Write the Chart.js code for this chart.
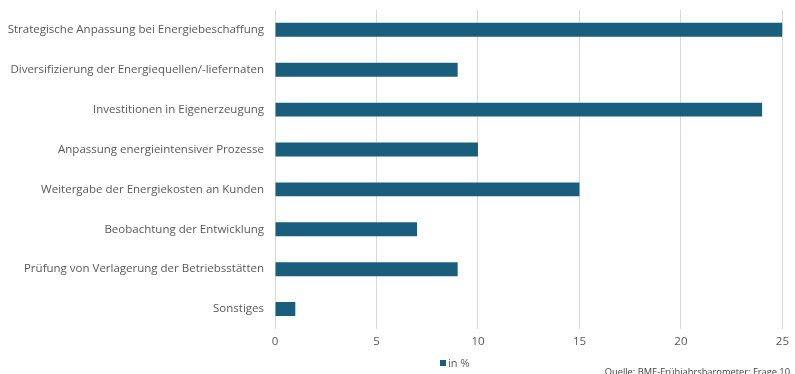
<!DOCTYPE html>
<html lang="de">
<head>
<meta charset="utf-8">
<title>Maßnahmen gegen hohe Energiekosten</title>
<script src="https://cdn.jsdelivr.net/npm/chart.js@4/dist/chart.umd.min.js"></script>
<style>
  html, body { margin: 0; padding: 0; background: #ffffff; }
  #wrap { position: relative; width: 795px; height: 374px; overflow: hidden; }
  #legend {
    position: absolute; left: 440px; top: 355px;
    font: 11px "Open Sans", sans-serif; color: #595959;
    display: flex; align-items: center;
  }
  #legend span.box { width: 6px; height: 6px; background: #1a5e7e; margin-right: 2px; }
  #source {
    position: absolute; right: 5px; top: 365px;
    font: 9.3px "Open Sans", sans-serif; color: #404040;
  }
</style>
</head>
<body>
<div id="wrap">
  <canvas id="chart" width="795" height="374"></canvas>
  <div id="legend"><span class="box"></span><span>in %</span></div>
  <div id="source">Quelle: BME-Frühjahrsbarometer; Frage 10</div>
</div>
<script>
// categories and values (in %)
const categories = [
    "Strategische Anpassung bei Energiebeschaffung",
    "Diversifizierung der Energiequellen/-liefernaten",
    "Investitionen in Eigenerzeugung",
    "Anpassung energieintensiver Prozesse",
    "Weitergabe der Energiekosten an Kunden",
    "Beobachtung der Entwicklung",
    "Prüfung von Verlagerung der Betriebsstätten",
    "Sonstiges"
];
const values = [25, 9, 24, 10, 15, 7, 9, 1];
const xTicks = [0, 5, 10, 15, 20, 25];

const barColor = "#1a5e7e";
const labelFont = { family: "'Open Sans', sans-serif", size: 11.5 };

const ctx = document.getElementById("chart").getContext("2d");
const chart = new Chart(ctx, {
    type: "bar",
    data: {
        labels: categories,
        datasets: [
            {
                label: "in %",
                data: values,
                backgroundColor: barColor,
                borderWidth: 0,
                categoryPercentage: 0.7,
                barPercentage: 0.5
            }
        ]
    },
    options: {
        indexAxis: "y",
        responsive: false,
        animation: false,
        layout: {
            padding: { top: 1, right: 12, left: 0, bottom: 0 }
        },
        plugins: {
            legend: { display: false },
            tooltip: { enabled: false }
        },
        scales: {
            x: {
                min: 0,
                max: 25,
                afterBuildTicks: function (scale) {
                    scale.ticks = xTicks.map(v => ({ value: v }));
                },
                afterFit: function (scale) {
                    scale.height = 45;
                },
                grid: {
                    color: "#d9d9d9",
                    lineWidth: 1,
                    drawTicks: false
                },
                border: { display: false },
                ticks: {
                    color: "#595959",
                    padding: 6,
                    font: labelFont
                }
            },
            y: {
                afterFit: function (scale) {
                    scale.width = 275;
                },
                grid: { display: false },
                border: { display: false },
                ticks: {
                    color: "#595959",
                    padding: 3,
                    font: labelFont
                }
            }
        }
    }
});
</script>
</body>
</html>
